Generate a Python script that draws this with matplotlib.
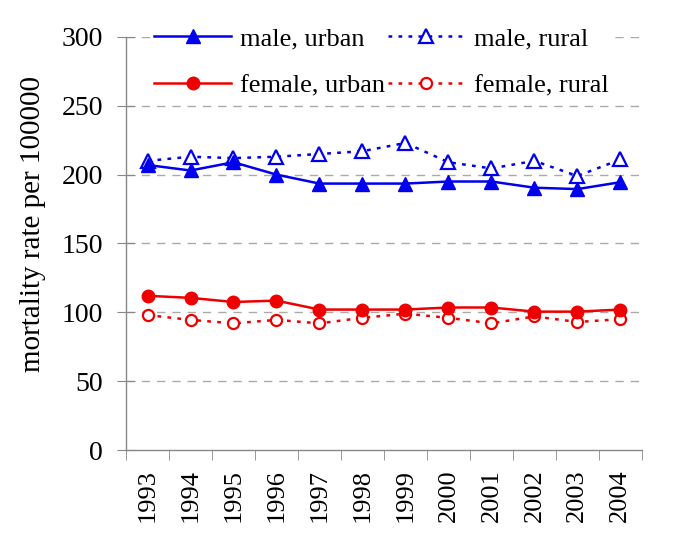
"""
Mortality rate per 100000 by sex and urban/rural residence, 1993-2004.
"""
import matplotlib
matplotlib.use("Agg")
import matplotlib.pyplot as plt
import numpy as np

years = ["1993", "1994", "1995", "1996", "1997", "1998",
         "1999", "2000", "2001", "2002", "2003", "2004"]

male_urban = [207, 203, 209, 200, 193.5, 193.5, 193.5, 195, 195, 190.5, 189.5, 194.5]
male_rural = [210, 213, 212, 213, 215, 217, 223, 209, 204.5, 210, 199, 211]
female_urban = [112, 110.5, 107.5, 108.5, 102, 102, 102, 103.5, 103.5, 100.5, 100.5, 102]
female_rural = [98, 94.5, 92, 94.5, 92, 96, 99, 96, 92, 97, 93, 95]

plt.rcParams['font.family'] = ['Liberation Serif', 'DejaVu Serif']

fig = plt.figure(figsize=(6.85, 5.33), dpi=100)
ax = fig.add_axes([0.184, 0.1557, 0.753, 0.775])

xx = np.arange(len(years))
dot = (0, (1.5, 2.5))

l_mu, = ax.plot(xx, male_urban, color="#0000ee", lw=1.8, marker="^", ms=10,
                mfc="#0000ee", mec="#0000ee", label="male, urban", zorder=4)
l_mr, = ax.plot(xx, male_rural, color="#0000ee", lw=1.8, ls=dot, marker="^",
                ms=10, mfc="white", mec="#0000ee", mew=1.6,
                label="male, rural", zorder=3)
l_fu, = ax.plot(xx, female_urban, color="#ee0000", lw=1.8, marker="o", ms=9,
                mfc="#ee0000", mec="#ee0000", label="female, urban", zorder=4)
l_fr, = ax.plot(xx, female_rural, color="#ee0000", lw=1.8, ls=dot, marker="o",
                ms=8, mfc="white", mec="#ee0000", mew=1.6,
                label="female, rural", zorder=3)

# Axes limits and ticks
ax.set_xlim(-0.5, len(years) - 0.5)
ax.set_ylim(0, 300)
ax.set_yticks(np.arange(0, 301, 50))
ax.set_xticks(xx)
ax.set_xticklabels(years, rotation=90)
ax.set_xticks(np.arange(-0.5, len(years), 1.0), minor=True)
ax.tick_params(axis="x", which="major", length=0, labelsize=19, pad=14)
ax.tick_params(axis="x", which="minor", length=7, color="#888888",
               direction="out")
ax.tick_params(axis="y", length=13, direction="inout", color="#888888",
               labelsize=20, pad=10)

ax.set_ylabel("mortality rate per 100000", fontsize=21)
ax.yaxis.set_label_coords(-0.155, 0.547)

# Gridlines (dashed, gray), skipping zero
for val in np.arange(50, 301, 50):
    ax.axhline(val, color="#aaaaaa", lw=1.0, ls=(0, (6, 5)), zorder=1)

for side in ["top", "right"]:
    ax.spines[side].set_visible(False)
for side in ["left", "bottom"]:
    ax.spines[side].set_color("#888888")
    ax.spines[side].set_linewidth(1.0)

leg = ax.legend(handles=[l_mu, l_fu, l_mr, l_fr], ncol=2, loc="upper center",
                bbox_to_anchor=(0.495, 1.03), frameon=True, fontsize=19,
                handlelength=2.9, columnspacing=0.1, handletextpad=0.35,
                labelspacing=0.87, borderaxespad=0.0, borderpad=0.1)
leg.get_frame().set_edgecolor("none")
leg.get_frame().set_facecolor("white")
leg.get_frame().set_alpha(1.0)
leg.set_zorder(5)

fig.savefig("out.png", dpi=100)
